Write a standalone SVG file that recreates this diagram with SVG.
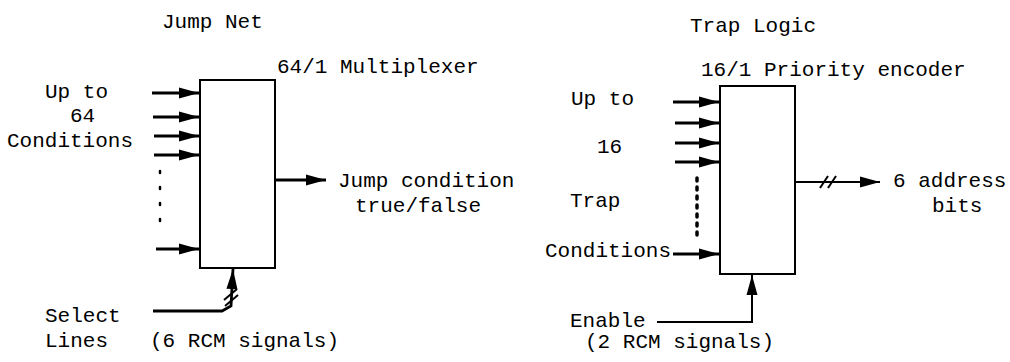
<svg xmlns="http://www.w3.org/2000/svg" width="1010" height="362" viewBox="0 0 1010 362">
<defs>
<marker id="ah" markerUnits="userSpaceOnUse" markerWidth="22" markerHeight="14" refX="20" refY="7" orient="auto" overflow="visible">
<path d="M0,1.5 L20,7 L0,12.5 Z" fill="#000"/>
</marker>
</defs>
<style>
text{font-family:"Liberation Mono","Courier New",monospace;font-size:21px;fill:#000}
.box{fill:#fff;stroke:#000;stroke-width:2}
.w{fill:none;stroke:#000;stroke-width:2.8}
.t{fill:none;stroke:#000;stroke-width:2}
.dot{fill:none;stroke:#000;stroke-width:2.5;stroke-dasharray:2 14;stroke-linecap:round}
.dot2{fill:none;stroke:#000;stroke-width:3.5;stroke-dasharray:3 6;stroke-linecap:round}
</style>
<rect width="1010" height="362" fill="#fff"/>
<g id="jump-net">
<text x="162" y="28">Jump Net</text>
<text x="277" y="73">64/1 Multiplexer</text>
<rect class="box" x="200" y="80" width="75" height="188"/>
</g>
<g id="jump-inputs">
<text x="45" y="98">Up to</text>
<text x="70" y="122">64</text>
<text x="7" y="147">Conditions</text>
</g>
<g id="jump-output">
<text x="338" y="187">Jump condition</text>
<text x="355" y="212">true/false</text>
</g>
<g id="jump-select">
<text x="45" y="322">Select</text>
<text x="45" y="347">Lines</text>
<text x="150" y="347">(6 RCM signals)</text>
</g>
<g id="trap-logic">
<text x="690" y="32">Trap Logic</text>
<text x="701" y="76">16/1 Priority encoder</text>
<rect class="box" x="720" y="86" width="75" height="188"/>
</g>
<g id="trap-inputs">
<text x="571" y="105">Up to</text>
<text x="597" y="153">16</text>
<text x="570" y="207">Trap</text>
<text x="545" y="257">Conditions</text>
</g>
<g id="trap-output">
<text x="893" y="187">6 address</text>
<text x="932" y="212">bits</text>
</g>
<g id="trap-enable">
<text x="570" y="327">Enable</text>
<text x="585" y="348">(2 RCM signals)</text>
</g>
<g id="connectors">
<line class="w" x1="152" y1="93" x2="199" y2="93" marker-end="url(#ah)"/>
<line class="w" x1="153" y1="117" x2="199" y2="117" marker-end="url(#ah)"/>
<line class="w" x1="154" y1="136" x2="199" y2="136" marker-end="url(#ah)"/>
<line class="w" x1="154" y1="155" x2="199" y2="155" marker-end="url(#ah)"/>
<line class="dot" x1="160" y1="171" x2="160" y2="231"/>
<line class="w" x1="156" y1="249" x2="199" y2="249" marker-end="url(#ah)"/>
<line class="w" x1="276" y1="180" x2="326" y2="180" marker-end="url(#ah)"/>
<path class="w" d="M153,311 L222,311 L231,306 L233,269" marker-end="url(#ah)"/>
<line class="t" x1="224" y1="300" x2="237" y2="289"/>
<line class="t" x1="225" y1="306" x2="238" y2="295"/>
<line class="w" x1="673" y1="102" x2="719" y2="102" marker-end="url(#ah)"/>
<line class="w" x1="675" y1="123" x2="719" y2="123" marker-end="url(#ah)"/>
<line class="w" x1="675" y1="143" x2="719" y2="143" marker-end="url(#ah)"/>
<line class="w" x1="675" y1="162" x2="719" y2="162" marker-end="url(#ah)"/>
<line class="dot2" x1="697" y1="178" x2="697" y2="240"/>
<line class="w" x1="673" y1="254" x2="719" y2="254" marker-end="url(#ah)"/>
<line class="t" x1="796" y1="182" x2="880" y2="182" marker-end="url(#ah)"/>
<line class="t" x1="820" y1="188" x2="828" y2="176"/>
<line class="t" x1="828" y1="188" x2="836" y2="176"/>
<path class="t" d="M657,322 L752,322 L752,275" marker-end="url(#ah)"/>
</g>
</svg>
